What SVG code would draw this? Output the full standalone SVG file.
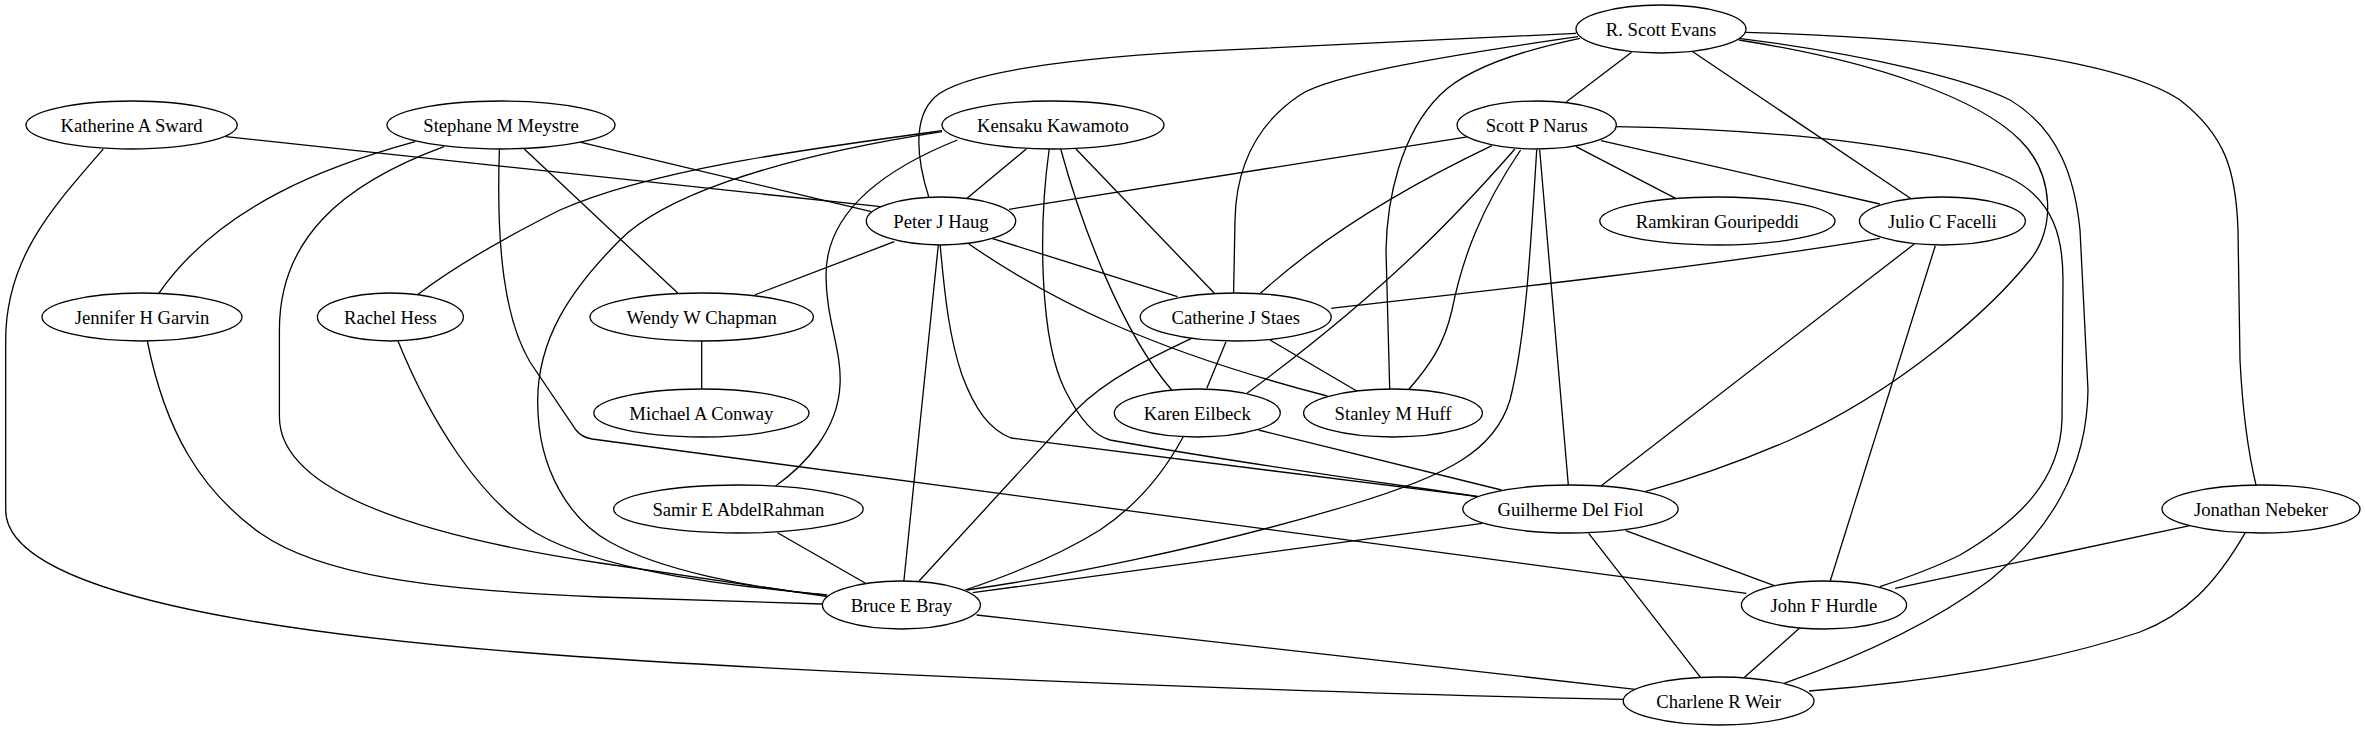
<svg xmlns="http://www.w3.org/2000/svg" width="2365" height="731" viewBox="0 0 2365 731">
<style>
.e{fill:none;stroke:#000;stroke-width:1.3}
.n ellipse{fill:#fff;stroke:#000;stroke-width:1.3}
.n text{font-family:"Liberation Serif","Times New Roman",serif;font-size:18.67px;text-anchor:middle;fill:#000}
</style>
<rect width="2365" height="731" fill="#fff"/>
<g id="edges">
<path class="e" d="M225.8,136.7 L880.9,206.7"/>
<path class="e" d="M103.3,149 C50,210 5.7,260 5.7,340 L5.7,510 C5.7,590 250,635 600,658 C900,678 1400,695 1623.2,699.3"/>
<path class="e" d="M577.9,141.7 L871.3,211.7"/>
<path class="e" d="M524.3,149 L678,293.3"/>
<path class="e" d="M415.2,141.7 C330,165 220,205 158.8,293.3"/>
<path class="e" d="M444,146.7 C340,185 279.4,240 279.4,330 L279.4,416.7 C279.4,480 380,530 600,563 C700,578 780,590 827.3,596.7"/>
<path class="e" d="M499.4,149 C496,250 505,320 530,362 L576,430 Q581.7,437.3 592,439 L1746.4,593.3"/>
<path class="e" d="M1026.3,149 L967,198.3"/>
<path class="e" d="M942,130.7 C800,150 650,170 560,210 C500,240 450,270 417.1,295"/>
<path class="e" d="M942,131.7 C760,160 660,200 620,240 C570,290 537,340 537.7,403 C538,470 570,520 610,542 C660,570 750,588 825.4,595"/>
<path class="e" d="M957.4,140 C870,175 826,220 826,275 C826,320 842,350 840,385 C838,430 805,465 775.6,486"/>
<path class="e" d="M1076,149 L1214.4,293.3"/>
<path class="e" d="M1060.7,149 C1080,220 1120,330 1171.7,390"/>
<path class="e" d="M1049.2,149 C1038,230 1040,340 1065,390 C1080,420 1095,436 1110,440 C1250,465 1400,485 1478.5,496.7"/>
<path class="e" d="M1576,33.3 L1190,51.7 C1050,60 960,75 935,97 C912,118 917,160 928.7,196.7"/>
<path class="e" d="M1578,36.7 C1450,55 1330,75 1300,95 C1255,125 1236,170 1235,220 L1233.6,293.3"/>
<path class="e" d="M1580,38.3 C1500,55 1460,75 1440,95 C1400,135 1387,200 1386,250 L1389.7,389.3"/>
<path class="e" d="M1631.6,52.3 L1566.5,101.7"/>
<path class="e" d="M1692.8,51.7 L1910.4,198.3"/>
<path class="e" d="M1738.7,40 C1880,62 1980,100 2020,140 C2055,175 2055,230 2030,260 C1990,310 1900,390 1790,440 C1730,466 1680,482 1645,491.7"/>
<path class="e" d="M1738.7,38.3 C1870,55 1970,80 2010,100 C2060,130 2075,180 2080,230 L2088,390 C2087,470 2050,530 1990,580 C1930,625 1850,660 1784.1,683.3"/>
<path class="e" d="M1745.6,32.3 C1950,38 2120,60 2180,100 C2225,135 2236,170 2238,230 L2240,360 C2243,420 2250,460 2256,485"/>
<path class="e" d="M1468.9,136.7 L1009,209.3"/>
<path class="e" d="M1491.9,145.7 C1420,180 1330,230 1260.4,293.3"/>
<path class="e" d="M1514.9,149 C1470,200 1400,280 1247,393.3"/>
<path class="e" d="M1520.6,150 C1480,210 1462,260 1452,310 C1444,345 1430,365 1408.9,389.3"/>
<path class="e" d="M1536.7,150 C1530,260 1525,340 1510,400 C1495,450 1450,475 1350,505 C1200,550 1050,578 967,590"/>
<path class="e" d="M1539.7,150 L1568.4,486"/>
<path class="e" d="M1576.1,146.7 L1675.6,198.3"/>
<path class="e" d="M1601,140.7 L1879.8,204"/>
<path class="e" d="M1616.3,126.7 C1800,130 1950,150 2010,178 C2055,200 2063,240 2063,280 L2062,420 C2060,480 2020,520 1960,555 C1930,570 1900,580 1879.8,586.7"/>
<path class="e" d="M894.2,241.7 L754.6,295"/>
<path class="e" d="M991.8,238.3 L1177.5,296.7"/>
<path class="e" d="M968.9,244 C1050,300 1150,350 1327.3,396"/>
<path class="e" d="M938.3,245 L903.8,581.7"/>
<path class="e" d="M940.2,245 C945,300 950,340 962,375 C975,410 990,430 1011,438 L1478.5,496.7"/>
<path class="e" d="M1879.8,238.3 C1700,268 1450,295 1331.2,308.3"/>
<path class="e" d="M1914.3,244 L1601,486"/>
<path class="e" d="M1935.3,245.7 L1830,581.7"/>
<path class="e" d="M147.3,341 C165,430 200,490 260,533 C320,575 430,590 600,597 L822.3,604"/>
<path class="e" d="M398,341 C430,420 480,500 536,533 C600,570 720,585 827.3,595"/>
<path class="e" d="M701.7,341 L701.7,389"/>
<path class="e" d="M1226,341.7 L1206.8,388.3"/>
<path class="e" d="M1270,340 L1358,391.7"/>
<path class="e" d="M1195.3,336.7 C1150,358 1105,380 1076,410 L919.1,581"/>
<path class="e" d="M1258.5,430 L1501.5,490"/>
<path class="e" d="M1183.2,436.7 C1160,480 1130,510 1100,530 C1060,555 1010,575 965,590"/>
<path class="e" d="M777.5,532.7 L865.5,583.3"/>
<path class="e" d="M1482.3,523.3 L972.7,592.7"/>
<path class="e" d="M1625.8,530.7 L1777,586.7"/>
<path class="e" d="M1588.7,533.3 L1700.5,677.3"/>
<path class="e" d="M976.5,615 L1635.4,689.3"/>
<path class="e" d="M1799.4,628.3 L1744.5,677.3"/>
<path class="e" d="M2189.8,525.7 L1895.1,588.3"/>
<path class="e" d="M2245.3,532.7 C2215,585 2185,615 2140,632 C2050,662 1930,682 1809,691"/>
</g>
<g id="n_evans" class="n"><ellipse cx="1661" cy="29" rx="85" ry="24"/><text x="1661" y="35.5">R. Scott Evans</text></g>
<g id="n_sward" class="n"><ellipse cx="131.6" cy="125" rx="105.6" ry="24"/><text x="131.6" y="131.5">Katherine A Sward</text></g>
<g id="n_meystre" class="n"><ellipse cx="501" cy="125" rx="114" ry="24"/><text x="501" y="131.5">Stephane M Meystre</text></g>
<g id="n_kawamoto" class="n"><ellipse cx="1053" cy="125" rx="111" ry="24"/><text x="1053" y="131.5">Kensaku Kawamoto</text></g>
<g id="n_narus" class="n"><ellipse cx="1536.7" cy="125" rx="79.6" ry="24"/><text x="1536.7" y="131.5">Scott P Narus</text></g>
<g id="n_haug" class="n"><ellipse cx="941" cy="221" rx="74.7" ry="24"/><text x="941" y="227.5">Peter J Haug</text></g>
<g id="n_gouripeddi" class="n"><ellipse cx="1717.4" cy="221" rx="117.6" ry="24"/><text x="1717.4" y="227.5">Ramkiran Gouripeddi</text></g>
<g id="n_facelli" class="n"><ellipse cx="1942.4" cy="221" rx="83" ry="24"/><text x="1942.4" y="227.5">Julio C Facelli</text></g>
<g id="n_garvin" class="n"><ellipse cx="142" cy="317" rx="100" ry="24"/><text x="142" y="323.5">Jennifer H Garvin</text></g>
<g id="n_hess" class="n"><ellipse cx="390.4" cy="317" rx="73" ry="24"/><text x="390.4" y="323.5">Rachel Hess</text></g>
<g id="n_chapman" class="n"><ellipse cx="701.7" cy="317" rx="111.7" ry="24"/><text x="701.7" y="323.5">Wendy W Chapman</text></g>
<g id="n_staes" class="n"><ellipse cx="1235.7" cy="317" rx="95.5" ry="24"/><text x="1235.7" y="323.5">Catherine J Staes</text></g>
<g id="n_conway" class="n"><ellipse cx="701.4" cy="413" rx="107.6" ry="24"/><text x="701.4" y="419.5">Michael A Conway</text></g>
<g id="n_eilbeck" class="n"><ellipse cx="1197.3" cy="413" rx="83" ry="24"/><text x="1197.3" y="419.5">Karen Eilbeck</text></g>
<g id="n_huff" class="n"><ellipse cx="1393" cy="413" rx="89.4" ry="24"/><text x="1393" y="419.5">Stanley M Huff</text></g>
<g id="n_abdelrahman" class="n"><ellipse cx="738.4" cy="509" rx="124.8" ry="24"/><text x="738.4" y="515.5">Samir E AbdelRahman</text></g>
<g id="n_delfiol" class="n"><ellipse cx="1570.5" cy="509" rx="107.7" ry="24"/><text x="1570.5" y="515.5">Guilherme Del Fiol</text></g>
<g id="n_nebeker" class="n"><ellipse cx="2261" cy="509" rx="99" ry="24"/><text x="2261" y="515.5">Jonathan Nebeker</text></g>
<g id="n_bray" class="n"><ellipse cx="901.4" cy="605" rx="79" ry="24"/><text x="901.4" y="611.5">Bruce E Bray</text></g>
<g id="n_hurdle" class="n"><ellipse cx="1824" cy="605" rx="82.6" ry="24"/><text x="1824" y="611.5">John F Hurdle</text></g>
<g id="n_weir" class="n"><ellipse cx="1718.6" cy="701" rx="95.4" ry="24"/><text x="1718.6" y="707.5">Charlene R Weir</text></g>
</svg>
